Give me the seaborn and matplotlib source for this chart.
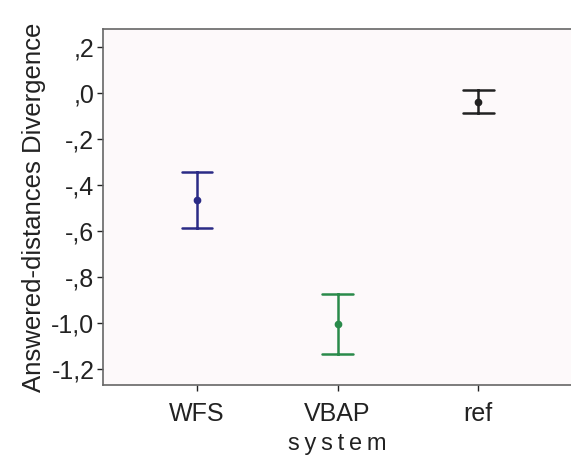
import pandas as pd
import matplotlib.pyplot as plt
import seaborn as sns

systems = ["WFS", "VBAP", "ref"]
means = [-0.465, -1.005, -0.040]
ci_low = [-0.587, -1.135, -0.087]
ci_high = [-0.343, -0.876, 0.012]
colors = ["#2b2b86", "#2a8a4a", "#222222"]
yticks = [0.2, 0.0, -0.2, -0.4, -0.6, -0.8, -1.0, -1.2]

# three rows per system: low, mean, high -> median is the mean, min..max is the CI
rows = []
for s, m, lo, hi in zip(systems, means, ci_low, ci_high):
    for v in (lo, m, hi):
        rows.append({"system": s, "value": v})
df = pd.DataFrame(rows)

sns.set_style("white")
plt.rcParams['font.family'] = ['Liberation Sans', 'DejaVu Sans']

fig, ax = plt.subplots(figsize=(5.71, 4.55), dpi=100)
fig.patch.set_facecolor("#ffffff")
ax.set_facecolor("#fdf9fa")

sns.pointplot(data=df, x="system", y="value", hue="system", palette=colors,
              estimator="median", errorbar=("pi", 100), capsize=0.22,
              linestyle="none", markersize=3.5, err_kws={"linewidth": 1.8},
              legend=False, ax=ax)

ax.set_xlim(-0.67, 2.66)
ax.set_ylim(-1.27, 0.278)
ax.set_yticks(yticks)
labels = []
for t in yticks:
    txt = f"{t:.1f}".replace(".", ",")
    if txt.startswith("0,"):
        txt = txt[1:]
    elif txt.startswith("-0,"):
        txt = "-" + txt[2:]
    labels.append(txt)
ax.set_yticklabels(labels)

ax.tick_params(axis="both", labelsize=18, colors="#222222", length=4, width=1,
               left=True, bottom=True)
ax.tick_params(axis="y", pad=2)
ax.tick_params(axis="x", pad=8)
ax.set_ylabel("Answered-distances Divergence", fontsize=18.5, color="#222222", labelpad=4)
ax.set_xlabel("s\u2009y\u2009s\u2009t\u2009e\u2009m", fontsize=17, color="#222222", labelpad=5)

for side in ["left", "bottom", "top"]:
    ax.spines[side].set_color("#666666")
    ax.spines[side].set_linewidth(1.2)
ax.spines["right"].set_visible(False)

fig.subplots_adjust(left=0.18, right=1.0, top=0.936, bottom=0.154)
fig.savefig("out.png", dpi=100)
